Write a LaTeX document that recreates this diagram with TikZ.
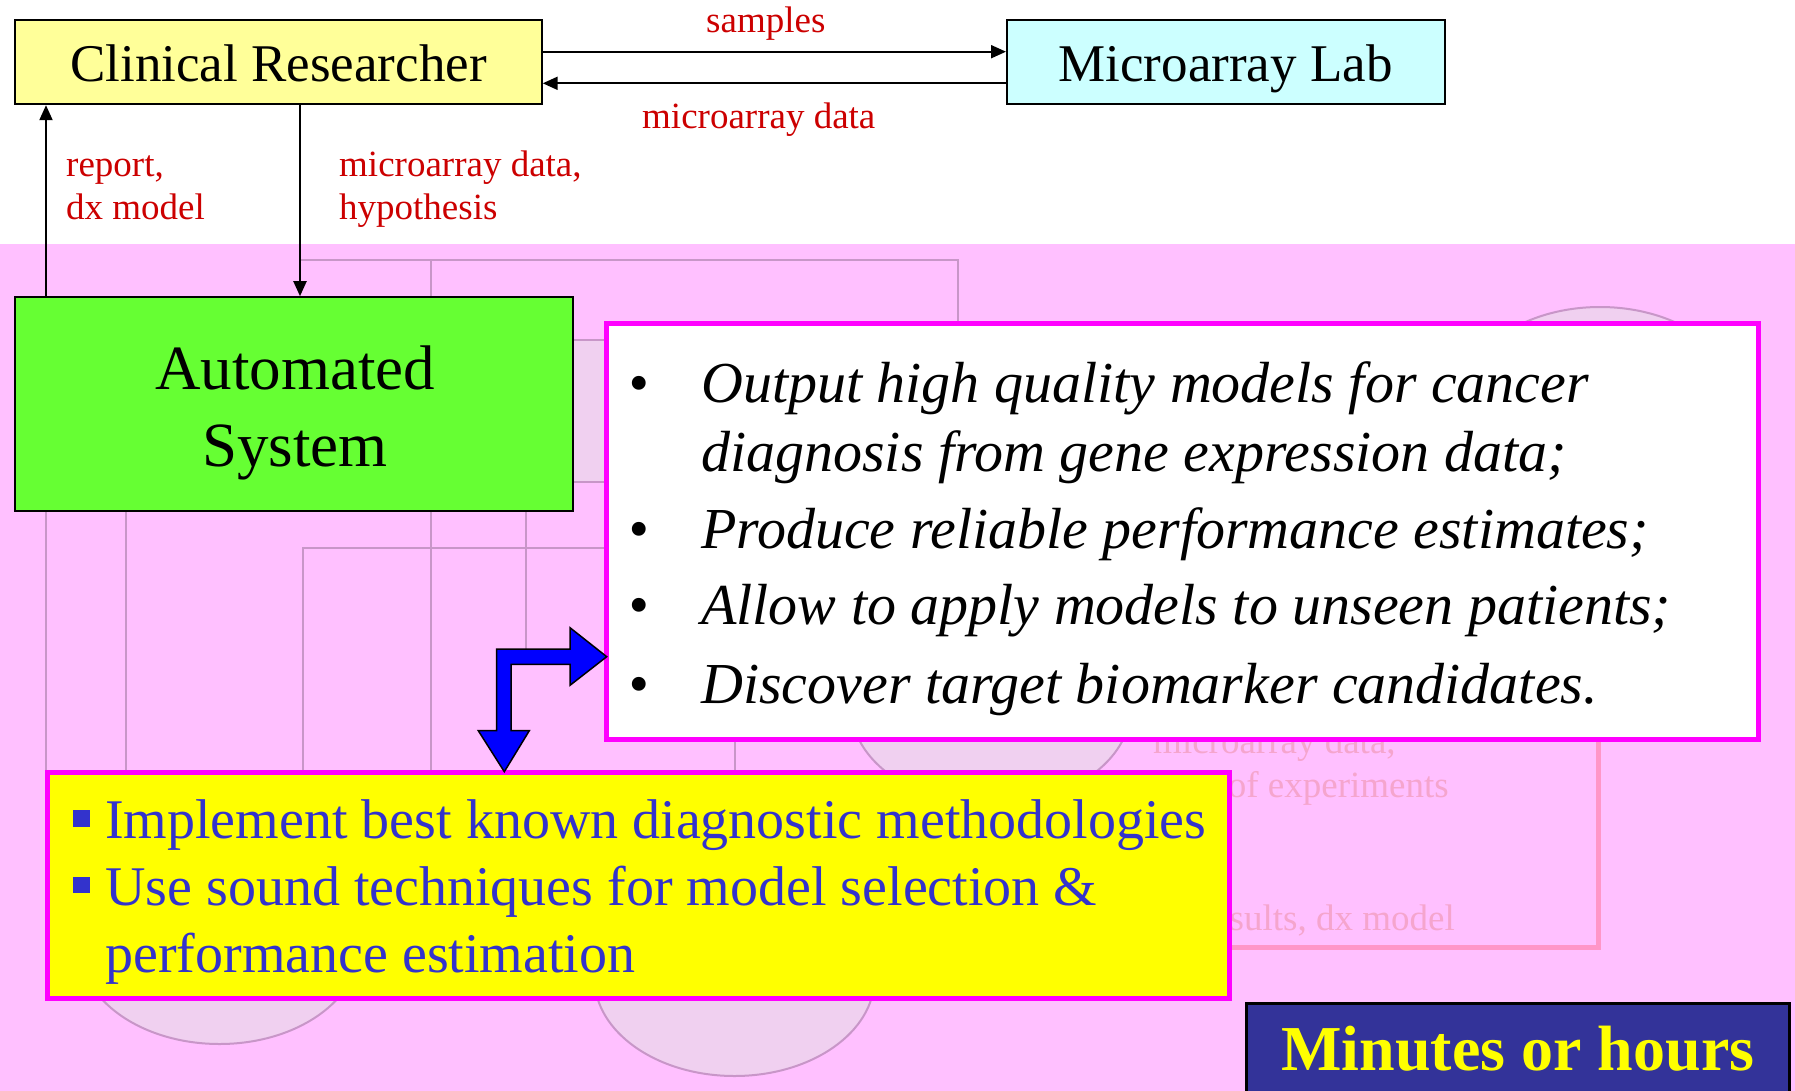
\documentclass[tikz,border=0pt]{standalone}
\usepackage{fontspec}
\setmainfont{Liberation Serif}
\usetikzlibrary{arrows.meta}
\definecolor{pinkbg}{RGB}{255,192,255}
\definecolor{greyline}{RGB}{200,150,200}
\definecolor{lavender}{RGB}{240,208,240}
\definecolor{salmon}{RGB}{255,150,200}
\definecolor{fainttext}{RGB}{245,165,205}
\definecolor{redlbl}{RGB}{204,0,0}
\definecolor{crfill}{RGB}{255,255,153}
\definecolor{mlfill}{RGB}{204,255,255}
\definecolor{asfill}{RGB}{102,255,51}
\definecolor{magentab}{RGB}{255,0,255}
\definecolor{yellowfill}{RGB}{255,255,0}
\definecolor{bluetext}{RGB}{51,51,204}
\definecolor{navyfill}{RGB}{51,51,153}
\definecolor{arrowblue}{RGB}{0,0,255}
\newcommand\szLbl{\fontsize{37}{43}\selectfont}
\newcommand\szBox{\fontsize{53}{60}\selectfont}
\newcommand\szAS{\fontsize{63}{77}\selectfont}
\newcommand\szBul{\fontsize{58}{70}\selectfont\itshape}
\newcommand\szYel{\fontsize{56}{67}\selectfont}
\newcommand\szMin{\fontsize{64}{70}\selectfont\bfseries}
\begin{document}
\begin{tikzpicture}[x=1pt,y=-1pt,
  arr/.style={line width=2pt,-{Triangle[length=15pt,width=13pt]}},
  grl/.style={draw=greyline,line width=2pt},
  ell/.style={fill=lavender,draw=greyline,line width=2pt},
  boxnode/.style={rectangle,draw=black,line width=2pt,inner sep=0pt},
  framebox/.style={rectangle,draw=magentab,line width=5pt,inner sep=0pt},
  txt/.style={inner sep=0pt,anchor=base},
  wtxt/.style={inner sep=0pt,anchor=base west},
  etxt/.style={inner sep=0pt,anchor=base east},
  lbl/.style={wtxt,text=redlbl,font=\szLbl},
  faint/.style={inner sep=0pt,text=fainttext,font=\szLbl},
  sq/.style={rectangle,fill=bluetext,inner sep=0pt,minimum width=16.5pt,minimum height=16.7pt}]
\useasboundingbox (0,0) rectangle (1795,1091);
\fill[white] (0,0) rectangle (1795,1091);
\fill[pinkbg] (0,244) rectangle (1795,1091);

% faint background slide
\draw[salmon,line width=5pt] (1000,650) rectangle (1598,947.5);
\node[faint,wtxt] (fmd) at (1153,753) {microarray data,};
\node[faint,etxt] (fexp) at (1449,797) {of experiments};
\node[faint,etxt] (fres) at (1455,930) {sults, dx model};
\filldraw[ell] (550,340) rectangle (650,482);
\draw[grl] (300,260) -- (957.5,260) -- (957.5,330);
\draw[grl] (430.5,260) -- (430.5,772);
\draw[grl] (46,505) -- (46,772);
\draw[grl] (126,505) -- (126,772);
\draw[grl] (526,505) -- (526,650);
\draw[grl] (302.5,772) -- (302.5,547.7) -- (610,547.7);
\draw[grl] (735,735) -- (735,772);
\filldraw[ell] (991,707) ellipse [x radius=140pt,y radius=98pt];
\filldraw[ell] (1600,405) ellipse [x radius=140pt,y radius=98pt];
\filldraw[ell] (219.5,946) ellipse [x radius=140pt,y radius=98pt];
\filldraw[ell] (734.5,978) ellipse [x radius=140pt,y radius=98pt];

% main boxes
\node[boxnode,fill=crfill,minimum width=527pt,minimum height=84pt] (cr) at (278.2,62.2) {};
\node[txt,font=\szBox] (crtext) at (278.5,82) {Clinical Researcher};
\node[boxnode,fill=mlfill,minimum width=438pt,minimum height=84pt] (ml) at (1226,62.2) {};
\node[txt,font=\szBox] (mltext) at (1225.6,81.7) {Microarray Lab};
\node[boxnode,fill=asfill,minimum width=558pt,minimum height=214pt] (as) at (294.2,404.2) {};
\node[txt,font=\szAS] (astext1) at (295,389) {Automated};
\node[txt,font=\szAS] (astext2) at (295,466) {System};

% connectors
\coordinate (ysamp) at (0,51.7);
\coordinate (ydata) at (0,83.3);
\coordinate (xrep) at (46,0);
\coordinate (xhyp) at (300,0);
\draw[arr] (cr.east |- ysamp) -- (ml.west |- ysamp);
\draw[arr] (ml.west |- ydata) -- (cr.east |- ydata);
\draw[arr] (as.north -| xrep) -- (cr.south -| xrep);
\draw[arr] (cr.south -| xhyp) -- (as.north -| xhyp);
\node[lbl] (lsamp) at (706,33) {samples};
\node[lbl] (ldata) at (642,129) {microarray data};
\node[lbl] (lrep1) at (66,177) {report,};
\node[lbl] (lrep2) at (66,220) {dx model};
\node[lbl] (lhyp1) at (339,177) {microarray data,};
\node[lbl] (lhyp2) at (339,220) {hypothesis};

% white goals box
\node[framebox,fill=white,minimum width=1151.5pt,minimum height=416.5pt] (goals) at (1182.7,531.7) {};
\node[txt,font=\szBul] (b1) at (638.8,402.6) {•};
\node[wtxt,font=\szBul] (t1) at (701,402.6) {Output high quality models for cancer};
\node[wtxt,font=\szBul] (t2) at (701,471.5) {diagnosis from gene expression data;};
\node[txt,font=\szBul] (b3) at (638.8,548) {•};
\node[wtxt,font=\szBul] (t3) at (701,548) {Produce reliable performance estimates;};
\node[txt,font=\szBul] (b4) at (638.8,624.6) {•};
\node[wtxt,font=\szBul] (t4) at (701,624.6) {Allow to apply models to unseen patients;};
\node[txt,font=\szBul] (b5) at (638.8,703) {•};
\node[wtxt,font=\szBul] (t5) at (701,703) {Discover target biomarker candidates.};

% yellow methods box
\node[framebox,fill=yellowfill,minimum width=1181.8pt,minimum height=225.8pt] (meth) at (638.4,885.1) {};
\node[sq] (sq1) at (81.7,818.3) {};
\node[wtxt,text=bluetext,font=\szYel] (m1) at (105,838.3) {Implement best known diagnostic methodologies};
\node[sq] (sq2) at (81.7,885) {};
\node[wtxt,text=bluetext,font=\szYel] (m2) at (105,905) {Use sound techniques for model selection \&};
\node[wtxt,text=bluetext,font=\szYel] (m3) at (105,972.7) {performance estimation};

% minutes box
\node[rectangle,draw=black,line width=3pt,fill=navyfill,minimum width=543pt,minimum height=116.5pt,inner sep=0pt] (mins) at (1518,1061.75) {};
\node[txt,text=yellowfill,font=\szMin] (minstext) at (1518,1070.7) {Minutes or hours};

% blue bent arrow
\filldraw[fill=arrowblue,draw=black,line width=1.5pt,line join=miter]
  (496.7,649) -- (570,649) -- (570,627.7) -- (606.7,656.7) -- (570,685.3)
  -- (570,664.3) -- (511,664.3) -- (511,730.7) -- (529.3,730.7)
  -- (504.3,771.7) -- (478.3,730.7) -- (496.7,730.7) -- cycle;
\end{tikzpicture}
\end{document}
